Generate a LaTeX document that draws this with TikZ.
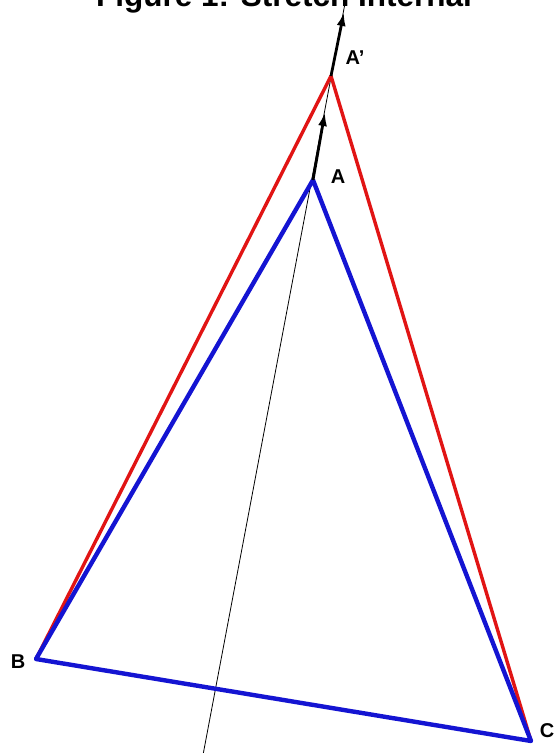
\documentclass[tikz,border=0pt]{standalone}
\usepackage{fontspec}
\setmainfont{Liberation Sans}
\usetikzlibrary{arrows.meta}
\begin{document}
\begin{tikzpicture}[x=1pt,y=-1pt,
  lbl/.style={font=\fontsize{20}{20}\selectfont\bfseries, inner sep=0pt},
  blueline/.style={draw={rgb,255:red,20;green,20;blue,210}, line width=4.4pt, line join=round, line cap=round},
  redline/.style={draw={rgb,255:red,225;green,20;blue,20}, line width=3.4pt, line join=round, line cap=round},
  axis/.style={draw=black, line width=0.8pt},
  stretch/.style={draw=black, line width=2.8pt, -{Latex[length=14pt,width=9pt]}}]
\useasboundingbox (0,0) rectangle (558,753);
\fill[white] (0,0) rectangle (558,753);
\coordinate (A) at (313,180);
\coordinate (Ap) at (331,76);
\coordinate (B) at (36,659);
\coordinate (C) at (531,741);
\coordinate (bot) at (203,755);
\coordinate (top) at (346,-2);
\coordinate (t1) at (325,112);
\coordinate (t2) at (344,12);
% axis
\draw[axis] (bot) -- (top);
% red triangle sides
\draw[redline] (B) -- (Ap) -- (C);
% blue triangle
\draw[blueline] (A) -- (B) -- (C) -- cycle;
% stretch arrows
\draw[stretch] (A) -- (t1);
\draw[stretch] (Ap) -- (t2);
% labels
\node[lbl] (lA) at (338,177) {A};
\node[lbl] (lAp) at (355,58) {A\char"0027};
\node[lbl] (lB) at (18,662) {B};
\node[lbl] (lC) at (547,731) {C};
% title
\node[anchor=base, inner sep=0pt, font=\fontsize{31.5}{31.5}\selectfont\bfseries] (title) at (284,6) {Figure 1: Stretch Internal};
\end{tikzpicture}
\end{document}
